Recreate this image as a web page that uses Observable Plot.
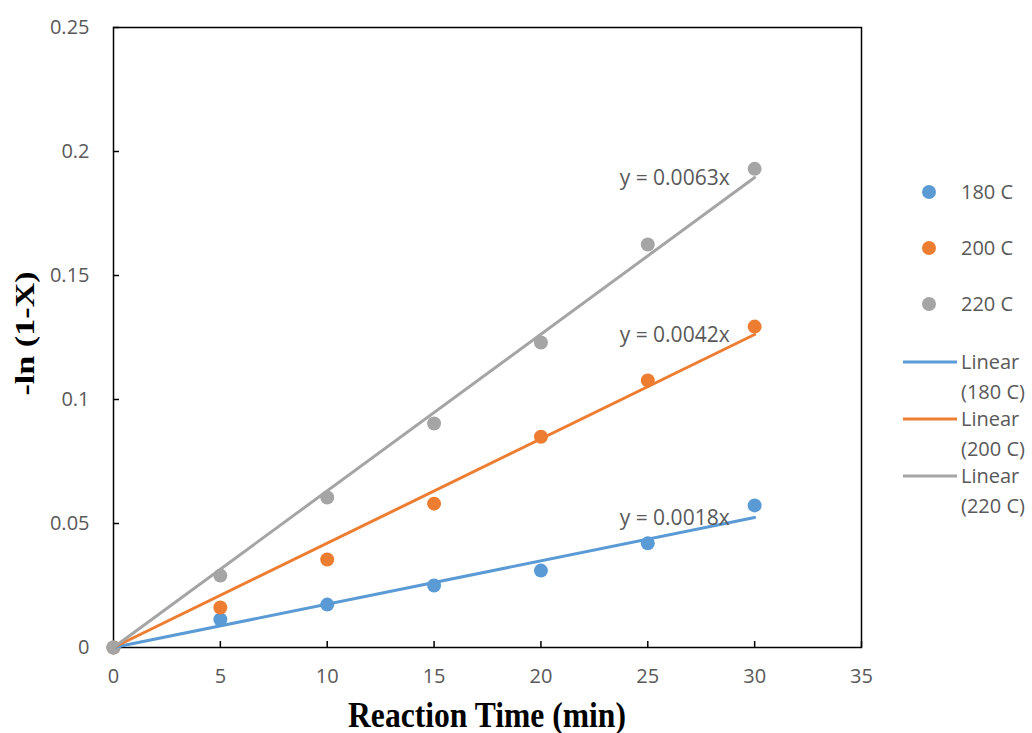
<!DOCTYPE html>
<html>
<head>
<meta charset="utf-8">
<script src="https://cdn.jsdelivr.net/npm/d3@7"></script>
<script src="https://cdn.jsdelivr.net/npm/@observablehq/plot@0.6"></script>
<style>
  html, body { margin: 0; padding: 0; background: #fff; }
  #chart { width: 1032px; height: 733px; }
</style>
</head>
<body>
<div id="chart"></div>
<script>
// Data
const times = [0, 5, 10, 15, 20, 25, 30];
const series = ["180 C", "200 C", "220 C"];
const colors = ["#5B9BD5", "#ED7D31", "#A5A5A5"];
const values180 = [0, 0.0113, 0.0173, 0.025, 0.031, 0.042, 0.0573];
const values200 = [0, 0.0161, 0.0355, 0.058, 0.085, 0.1077, 0.1294];
const values220 = [0, 0.029, 0.0605, 0.0903, 0.123, 0.1625, 0.193];
const trendStartX = 0, trendEndX = 30;
const trendEnd = [0.0524, 0.1262, 0.1895];
const equations = ["y = 0.0018x", "y = 0.0042x", "y = 0.0063x"];
const xTicks = [0, 5, 10, 15, 20, 25, 30, 35];
const yTicks = [0, 0.05, 0.1, 0.15, 0.2, 0.25];
const xTitle = "Reaction Time (min)";
const yTitle = "-ln (1-X)";

const allValues = [values180, values200, values220];
const points = [];
series.forEach((s, i) => times.forEach((t, j) => points.push({series: s, x: t, y: allValues[i][j]})));
const trends = [];
series.forEach((s, i) => {
  trends.push({series: s, x: trendStartX, y: 0});
  trends.push({series: s, x: trendEndX, y: trendEnd[i]});
});
const eqLabels = series.map((s, i) => ({series: s, x: trendEndX, y: trendEnd[i], text: equations[i]}));

const colorScale = {domain: series, range: colors};
const font = "'Open Sans', 'Noto Sans', sans-serif";

const plot = Plot.plot({
  width: 1032,
  height: 733,
  marginLeft: 113,
  marginRight: 171,
  marginTop: 27,
  marginBottom: 86,
  style: {fontFamily: font, fontSize: "20px", color: "#595959", background: "#fff"},
  x: {domain: [0, 35], ticks: xTicks},
  y: {domain: [0, 0.25], ticks: yTicks},
  color: colorScale,
  marks: [
    Plot.frame({stroke: "#000", strokeWidth: 1.5}),
    Plot.axisX({ticks: xTicks, tickSize: -6, tickPadding: 27, stroke: "#000", strokeWidth: 1.5, label: null, fill: "#595959", fontSize: 20, tickFormat: d => String(d)}),
    Plot.axisY({ticks: yTicks, tickSize: -6, tickPadding: 30, stroke: "#000", strokeWidth: 1.5, label: null, fill: "#595959", fontSize: 20, tickFormat: d => String(d)}),
    Plot.dot(points, {x: "x", y: "y", fill: "series", r: 7, stroke: "none"}),
    Plot.line(trends, {x: "x", y: "y", stroke: "series", z: "series", strokeWidth: 3}),
    Plot.text(eqLabels, {x: "x", y: "y", text: "text", dx: -80, dy: 1, fill: "#595959", fontSize: 21, textAnchor: "middle"})
  ]
});

const svg = d3.select(plot);
// Axis titles
svg.append("text")
  .attr("transform", "translate(487,727) scale(1,1.15)")
  .attr("text-anchor", "middle")
  .attr("font-family", "'Liberation Serif', 'Times New Roman', serif")
  .attr("font-weight", "bold").attr("font-size", 31.6).attr("fill", "#000")
  .text(xTitle);
svg.append("text")
  .attr("transform", "translate(25,333.5) rotate(-90) scale(1.22,1)")
  .attr("text-anchor", "middle")
  .attr("dy", "0.33em")
  .attr("font-family", "'Liberation Serif', 'Times New Roman', serif")
  .attr("font-weight", "bold").attr("font-size", 28).attr("fill", "#000")
  .text(yTitle);

// Legend
const lg = svg.append("g").attr("font-family", font).attr("font-size", 20).attr("fill", "#595959").attr("text-anchor", "start");
series.forEach((s, i) => {
  const y = 192 + i * 56;
  lg.append("circle").attr("cx", 929).attr("cy", y).attr("r", 7).attr("fill", colors[i]);
  lg.append("text").attr("x", 961).attr("y", y).attr("dy", "0.35em").text(s);
});
series.forEach((s, i) => {
  const y = 362 + i * 57;
  lg.append("line").attr("x1", 903).attr("x2", 957).attr("y1", y).attr("y2", y)
    .attr("stroke", colors[i]).attr("stroke-width", 3);
  lg.append("text").attr("x", 961).attr("y", y).attr("dy", "0.35em").text("Linear");
  lg.append("text").attr("x", 961).attr("y", y + 30).attr("dy", "0.35em").text("(" + s + ")");
});

document.getElementById("chart").appendChild(plot);
</script>
</body>
</html>
